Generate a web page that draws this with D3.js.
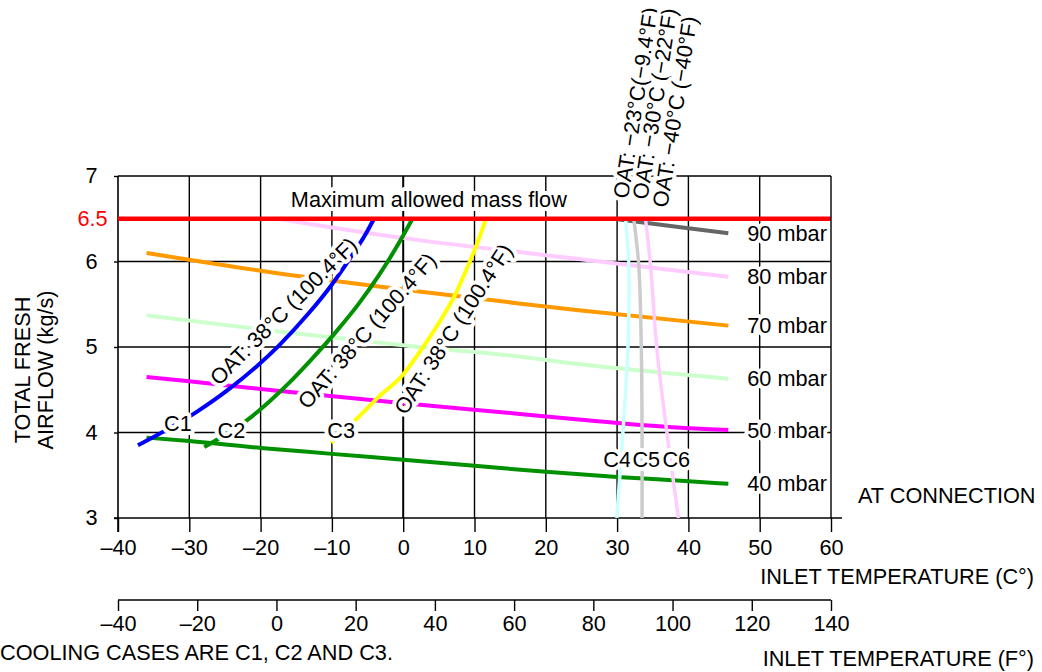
<!DOCTYPE html>
<html>
<head>
<meta charset="utf-8">
<script src="https://cdn.jsdelivr.net/npm/d3@7"></script>
<style>
  html, body { margin: 0; padding: 0; background: #fff; }
  svg { display: block; font-family: "Liberation Sans", Arial, Helvetica, sans-serif; }
</style>
</head>
<body>
<svg id="chart" width="1042" height="672"></svg>
<script>
// ---------------- DATA ----------------
const celsiusTicks = [-40, -30, -20, -10, 0, 10, 20, 30, 40, 50, 60];
const fahrenheitTicks = [-40, -20, 0, 20, 40, 60, 80, 100, 120, 140];
const flowTicks = [3, 4, 5, 6, 7];
const maxFlow = 6.5;

// pressure curves: [inlet temp °C, airflow kg/s]
const mbar40 = [[-36, 3.94], [-30, 3.90], [-20, 3.82], [-10, 3.75], [0, 3.68], [10, 3.61], [20, 3.54], [30, 3.48], [40, 3.43], [45.6, 3.40]];
const mbar50 = [[-36, 4.65], [-30, 4.60], [-18, 4.49], [-1, 4.35], [16, 4.22], [25, 4.15], [40, 4.05], [45.6, 4.03]];
const mbar60 = [[-36, 5.37], [-17.4, 5.18], [2.2, 5.00], [16.2, 4.89], [24.6, 4.80], [45.6, 4.63]];
const mbar70 = [[-36, 6.10], [-17.4, 5.86], [2.2, 5.65], [16.2, 5.51], [24.6, 5.43], [45.6, 5.25]];
const mbar80 = [[-17.5, 6.50], [-9.4, 6.39], [2.2, 6.25], [16.2, 6.11], [24.6, 6.03], [45.6, 5.82]];
const mbar90 = [[29.5, 6.50], [40, 6.39], [45.6, 6.33]];
const mbarNames = ["40 mbar", "50 mbar", "60 mbar", "70 mbar", "80 mbar", "90 mbar"];

// cooling / heating cases
const caseC1 = [[-37.2, 3.85], [-28.8, 4.25], [-24.4, 4.51], [-20.6, 4.77], [-17.4, 5.02], [-13.2, 5.40], [-10.1, 5.72], [-7.6, 6.02], [-5.2, 6.33], [-4.1, 6.50]];
const caseC2 = [[-27.9, 3.83], [-21.8, 4.15], [-18.8, 4.36], [-16.0, 4.58], [-12.7, 4.87], [-9.4, 5.18], [-6.2, 5.51], [-3.4, 5.84], [-1.0, 6.16], [1.3, 6.50]];
const caseC3 = [[-10.1, 3.88], [-6.4, 4.17], [-3.4, 4.42], [-0.1, 4.67], [2.2, 4.93], [5.0, 5.28], [7.4, 5.63], [9.2, 5.97], [10.6, 6.26], [11.6, 6.50]];
const caseC4 = [[29.95, 3.0], [30.8, 3.98], [31.5, 4.96], [31.65, 5.94], [31.2, 6.49]];
const caseC5 = [[33.5, 3.0], [33.5, 3.99], [33.4, 4.96], [33.05, 5.94], [32.35, 6.49]];
const caseC6 = [[38.6, 3.0], [37.0, 3.99], [35.6, 4.96], [34.7, 5.94], [34.0, 6.49]];
const caseNames = ["C1", "C2", "C3", "C4", "C5", "C6"];
const hotOAT = "OAT: 38°C (100.4°F)";
const coldOAT = ["OAT: −23°C(−9.4°F)", "OAT: −30°C (−22°F)", "OAT: −40°C (−40°F)"];

// ---------------- DRAW ----------------
const svg = d3.select("#chart");
const x = d3.scaleLinear().domain([-40, 60]).range([118, 831]);
const xF = d3.scaleLinear().domain([-40, 140]).range([118, 831]);
const y = d3.scaleLinear().domain([3, 7]).range([518, 176]);
const FONT = 21.7;

// grid
const grid = svg.append("g");
grid.selectAll("line.v").data(celsiusTicks.slice(1, -1)).join("line")
  .attr("x1", d => x(d)).attr("x2", d => x(d))
  .attr("y1", y(7)).attr("y2", y(3))
  .attr("stroke", "#000").attr("stroke-width", d => d === 0 ? 2 : 1.4);
grid.selectAll("line.h").data(flowTicks.slice(1)).join("line")
  .attr("x1", x(-40)).attr("x2", x(60))
  .attr("y1", d => y(d)).attr("y2", d => y(d))
  .attr("stroke", "#000").attr("stroke-width", 1.4);

// bottom Celsius axis
const axC = svg.append("g").attr("transform", `translate(0,${y(3)})`)
  .call(d3.axisBottom(x).tickValues(celsiusTicks).tickSize(14).tickPadding(8)
    .tickFormat(d => d < 0 ? "–" + Math.abs(d) : d));
axC.select(".domain").remove();
axC.append("line").attr("x1", 114).attr("x2", 842).attr("stroke", "#000").attr("stroke-width", 1.6);
axC.selectAll(".tick line").attr("stroke-width", 1.4);

// left axis
const axY = svg.append("g").attr("transform", `translate(${x(-40)},0)`)
  .call(d3.axisLeft(y).tickValues(flowTicks).tickSize(4).tickFormat(d3.format("d")));
axY.select(".domain").remove();
axY.append("line").attr("y1", y(7)).attr("y2", y(3) + 14).attr("stroke", "#000").attr("stroke-width", 1.6);
axY.selectAll(".tick text").attr("text-anchor", "middle").attr("x", -26.5);
axY.selectAll(".tick line").attr("stroke-width", 1.4);

// Fahrenheit axis
const axF = svg.append("g").attr("transform", `translate(0,600)`)
  .call(d3.axisBottom(xF).tickValues(fahrenheitTicks).tickSize(11).tickPadding(5)
    .tickFormat(d => d < 0 ? "–" + Math.abs(d) : d));
axF.select(".domain").attr("d", `M${xF(-40)},0H${xF(140)}`).attr("stroke-width", 1.6);
axF.selectAll(".tick line").attr("stroke-width", 1.4);

svg.selectAll(".tick text").attr("font-size", FONT).attr("fill", "#000")
  .attr("font-family", "Liberation Sans, Arial, sans-serif");

// red max-flow tick label
svg.append("text").attr("x", x(-40) - 25.5).attr("y", y(maxFlow)).attr("dy", "0.35em")
  .attr("text-anchor", "middle").attr("font-size", FONT).attr("fill", "#ff0000").text(maxFlow);

// lines
const lineM = d3.line().x(d => x(d[0])).y(d => y(d[1])).curve(d3.curveMonotoneX);
const lineC = d3.line().x(d => x(d[0])).y(d => y(d[1])).curve(d3.curveCatmullRom.alpha(0.5));
const mbarSeries = [mbar40, mbar50, mbar60, mbar70, mbar80, mbar90];
const mbarColors = ["#009000", "#ff00ff", "#ccffcc", "#ff9900", "#ffccff", "#666666"];
svg.append("g").selectAll("path").data(mbarSeries).join("path")
  .attr("d", lineM).attr("fill", "none")
  .attr("stroke", (d, i) => mbarColors[i]).attr("stroke-width", 4);

const caseSeries = [caseC1, caseC2, caseC3, caseC4, caseC5, caseC6];
const caseColors = ["#0000ff", "#009000", "#ffff00", "#ccffff", "#cccccc", "#ffccff"];
svg.append("g").selectAll("path").data(caseSeries).join("path")
  .attr("d", (d, i) => i < 3 ? lineM(d) : lineC(d)).attr("fill", "none")
  .attr("stroke", (d, i) => caseColors[i]).attr("stroke-width", (d, i) => i < 3 ? 4 : 3.5);

// maximum allowed mass flow
svg.append("line").attr("x1", x(-40)).attr("x2", x(60))
  .attr("y1", y(maxFlow)).attr("y2", y(maxFlow))
  .attr("stroke", "#ff0000").attr("stroke-width", 4.5);

// helper for haloed text
function halo(sel) {
  return sel.attr("font-size", FONT).attr("fill", "#000")
    .attr("stroke", "#fff").attr("stroke-width", 8).attr("stroke-linejoin", "round")
    .attr("paint-order", "stroke");
}

halo(svg.append("text").attr("x", x(3.6)).attr("y", y(6.5) - 12)
  .attr("text-anchor", "middle").text("Maximum allowed mass flow"));

// mbar labels at curve ends
const labG = svg.append("g");
mbarSeries.forEach((s, i) => {
  const e = s[s.length - 1];
  halo(labG.append("text").attr("x", x(e[0]) + 19).attr("y", y(e[1])).attr("dy", "0.35em")
    .text(mbarNames[i]));
});

// right border drawn over the label halos
svg.append("line").attr("x1", x(60)).attr("x2", x(60))
  .attr("y1", y(7)).attr("y2", y(3))
  .attr("stroke", "#000").attr("stroke-width", 1.4);

// case labels
const caseLabelPos = [[-31.6, 4.11], [-24.1, 4.03], [-8.7, 4.02], [30, 3.68], [34.1, 3.68], [38.3, 3.68]];
caseLabelPos.forEach((p, i) => {
  halo(labG.append("text").attr("x", x(p[0])).attr("y", y(p[1])).attr("dy", "0.35em")
    .attr("text-anchor", "middle").text(caseNames[i]));
});

// hot OAT labels along C1..C3
const hotPos = [[-16.8, 5.42, -45], [-5.1, 5.19, -49], [7.0, 5.21, -57]];
hotPos.forEach(p => {
  halo(labG.append("text")
    .attr("transform", `translate(${x(p[0])},${y(p[1])}) rotate(${p[2]})`)
    .attr("text-anchor", "middle").attr("dy", "0.35em").text(hotOAT));
});

// cold OAT labels above C4..C6
const coldPos = [[32.6, 6.5 + 116 / 85.5], [35.3, 6.5 + 115 / 85.5], [38.1, 6.5 + 107 / 85.5]];
coldOAT.forEach((t, i) => {
  const p = coldPos[i];
  halo(labG.append("text")
    .attr("transform", `translate(${x(p[0])},${y(p[1])}) rotate(-81)`)
    .attr("text-anchor", "middle").attr("dy", "0.35em").text(t));
});

// axis titles and notes
svg.append("text").attr("x", 858).attr("y", 495).attr("dy", "0.35em").attr("font-size", FONT)
  .text("AT CONNECTION");
svg.append("text").attr("x", 1034).attr("y", 576).attr("dy", "0.35em").attr("font-size", FONT)
  .attr("text-anchor", "end").text("INLET TEMPERATURE (C°)");
svg.append("text").attr("x", 1034).attr("y", 658).attr("dy", "0.35em").attr("font-size", FONT)
  .attr("text-anchor", "end").text("INLET TEMPERATURE (F°)");
svg.append("text").attr("x", 0).attr("y", 652).attr("dy", "0.35em").attr("font-size", FONT)
  .text("COOLING CASES ARE C1, C2 AND C3.");
const yt = svg.append("text").attr("transform", "translate(22,370) rotate(-90)")
  .attr("text-anchor", "middle").attr("font-size", FONT);
yt.append("tspan").attr("x", 0).attr("dy", "0.35em").text("TOTAL FRESH");
yt.append("tspan").attr("x", 0).attr("dy", 23).text("AIRFLOW (kg/s)");
</script>
</body>
</html>
